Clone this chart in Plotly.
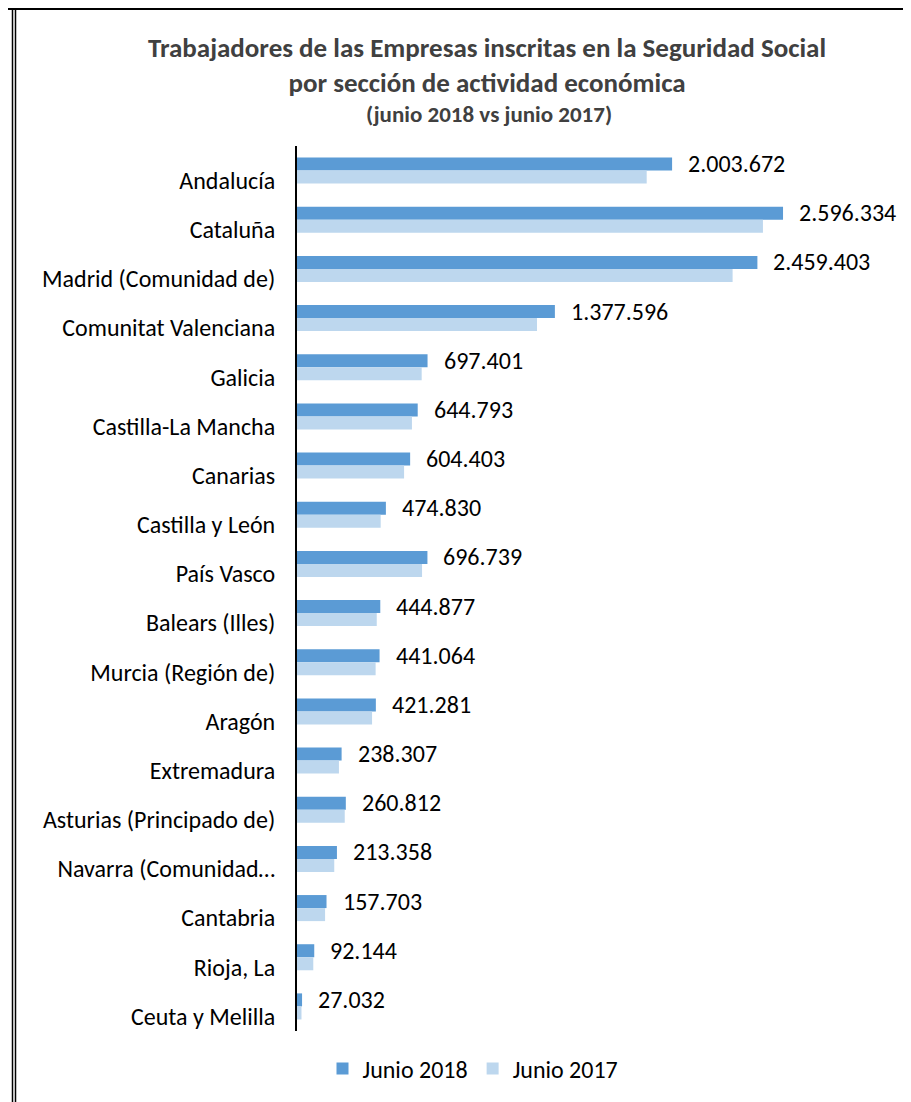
import plotly.graph_objects as go

categories = ["Andalucía", "Cataluña", "Madrid (Comunidad de)", "Comunitat Valenciana",
              "Galicia", "Castilla-La Mancha", "Canarias", "Castilla y León", "País Vasco",
              "Balears (Illes)", "Murcia (Región de)", "Aragón", "Extremadura",
              "Asturias (Principado de)", "Navarra (Comunidad…", "Cantabria", "Rioja, La",
              "Ceuta y Melilla"]
junio_2018 = [2003672, 2596334, 2459403, 1377596, 697401, 644793, 604403, 474830, 696739,
              444877, 441064, 421281, 238307, 260812, 213358, 157703, 92144, 27032]
junio_2017 = [1868000, 2489000, 2327000, 1282000, 666000, 614000, 572000, 447000, 668000,
              426000, 420000, 401000, 224000, 255000, 199000, 150000, 87000, 24000]
labels_2018 = ["2.003.672", "2.596.334", "2.459.403", "1.377.596", "697.401", "644.793",
               "604.403", "474.830", "696.739", "444.877", "441.064", "421.281", "238.307",
               "260.812", "213.358", "157.703", "92.144", "27.032"]

O = 8  # page body margin offset
W, H = 911 - O, 1102 - O
L = 297 - O
T = 146 - O
B = H - (1031 - O)
R = W - (857 - O)
pw, ph = W - L - R, H - T - B

def px(x):
    return (x - O - L) / pw

def py(y):
    return (H - B - (y - O)) / ph

FONT = "Carlito, Calibri, Lato, sans-serif"

fig = go.Figure()
fig.add_trace(go.Bar(y=categories, x=junio_2018, orientation="h", name="Junio 2018",
                     marker=dict(color="#5B9BD5", line=dict(width=0))))
fig.add_trace(go.Bar(y=categories, x=junio_2017, orientation="h", name="Junio 2017",
                     marker=dict(color="#BDD7EE", line=dict(width=0))))

annotations = []
for c, v, t in zip(categories, junio_2018, labels_2018):
    annotations.append(dict(x=v, y=c, xref="x", yref="y", text=t, showarrow=False,
                            xanchor="left", xshift=14, yshift=7,
                            font=dict(family=FONT, size=24, color="#000000")))

annotations.append(dict(
    x=px(487), y=py(65), xref="paper", yref="paper", xanchor="center", yanchor="middle",
    showarrow=False, align="center",
    text="<b>Trabajadores de las Empresas inscritas en la Seguridad Social</b><br>"
         "<b>por sección de actividad económica</b>",
    font=dict(family=FONT, size=27, color="#404040")))
annotations.append(dict(
    x=px(489), y=py(114), xref="paper", yref="paper", xanchor="center", yanchor="middle",
    showarrow=False, text="<b>(junio 2018 vs junio 2017)</b>",
    font=dict(family=FONT, size=23, color="#404040")))

shapes = [
    dict(type="line", xref="paper", yref="paper", x0=px(0), x1=px(911), y0=py(9), y1=py(9),
         line=dict(color="#000000", width=2)),
    dict(type="line", xref="paper", yref="paper", x0=px(12.5), x1=px(12.5), y0=py(9), y1=py(1102),
         line=dict(color="#000000", width=1.5)),
    dict(type="line", xref="paper", yref="paper", x0=px(15.5), x1=px(15.5), y0=py(9), y1=py(1102),
         line=dict(color="#000000", width=1.5)),
]

fig.update_layout(
    width=W, height=H,
    margin=dict(l=L, r=R, t=T, b=B, autoexpand=False),
    paper_bgcolor="white", plot_bgcolor="white",
    barmode="group", bargap=0.47, bargroupgap=0,
    font=dict(family=FONT, size=24, color="#000000"),
    showlegend=True,
    legend=dict(orientation="h", x=px(473), xanchor="center", y=py(1069), yanchor="middle",
                font=dict(family=FONT, size=24, color="#000000"), traceorder="normal",
                itemwidth=30),
    annotations=annotations,
    shapes=shapes,
)
fig.update_xaxes(range=[0, pw / 187.2e-6], visible=False, fixedrange=True)
fig.update_yaxes(autorange="reversed", showline=True, linecolor="#000000", linewidth=2,
                 ticks="", showgrid=False, zeroline=False,
                 tickfont=dict(family=FONT, size=24, color="#000000"),
                 ticklabelstandoff=15, ticklabelshift=-10)

fig.write_html("out.html")
